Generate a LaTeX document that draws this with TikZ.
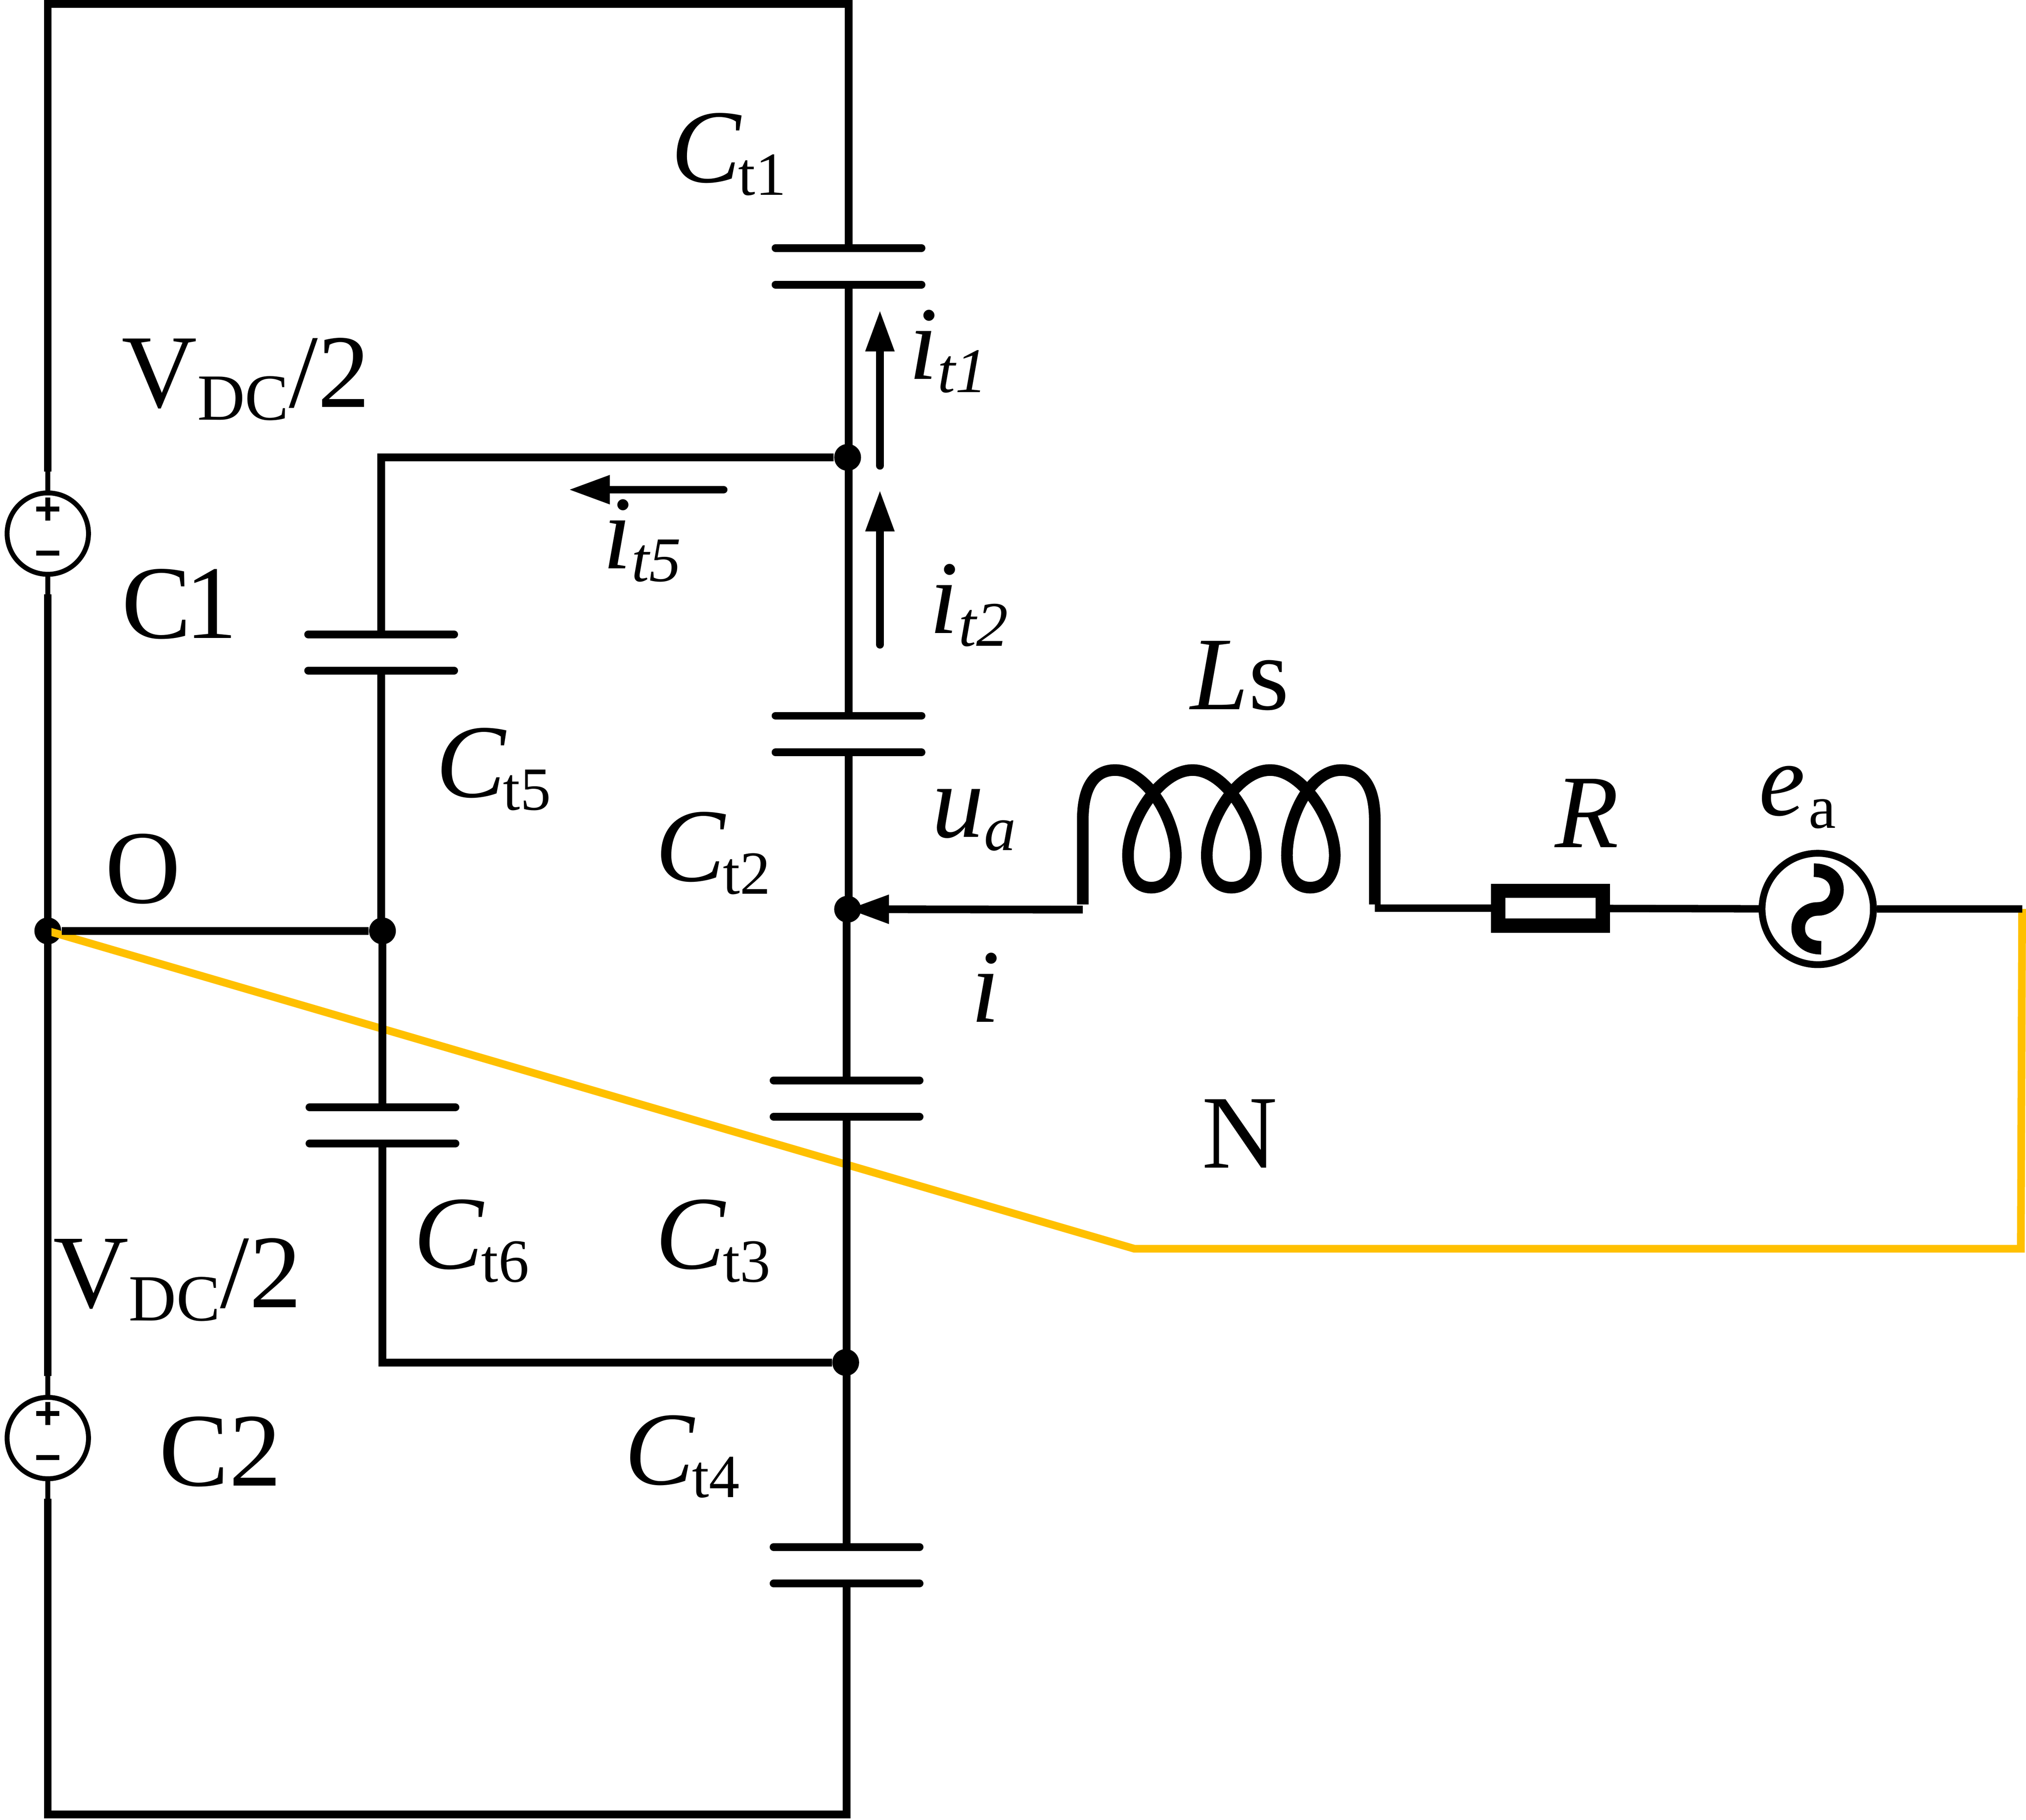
\documentclass[tikz,border=0pt]{standalone}
\usepackage{fontspec}
\setmainfont{Liberation Serif}
\usetikzlibrary{arrows.meta}
\definecolor{neutralline}{HTML}{FFC000}
\newcommand{\bigsize}{\fontsize{46pt}{50pt}\selectfont}
\newcommand{\subsize}{\fontsize{27pt}{30pt}\selectfont}
\newcommand{\lowsub}[1]{\hspace{-0.5mm}\raisebox{-2mm}{\subsize #1}}
\newcommand{\itsub}[1]{\raisebox{-2mm}{\fontsize{28pt}{30pt}\selectfont\textit{#1}}}
\tikzset{
	wire/.style={line width=1.2mm},
	thinwire/.style={line width=0.76mm},
	feed/.style={line width=1.15mm},
	plate/.style={line width=1.2mm, line cap=round},
	coil/.style={line width=1.8mm},
	flow/.style={line width=1.2mm, line cap=round, -{Triangle[length=6.4mm,width=4.2mm]}},
	junction/.style={circle, fill=black, inner sep=0pt, minimum size=4.15mm},
	dcsource/.style={circle, draw, line width=0.76mm, fill=white, inner sep=0pt, minimum size=12.6mm},
	acsource/.style={circle, draw, line width=1.06mm, fill=white, inner sep=0pt, minimum size=17.24mm},
	resistor/.style={rectangle, draw, line width=2.2mm, fill=white, inner sep=0pt, minimum width=16.2mm, minimum height=5.4mm},
	lab/.style={anchor=base west, inner sep=0pt, font=\bigsize},
}
\begin{document}
\begin{tikzpicture}[x=0.2mm,y=-0.2mm]
	\useasboundingbox (0,0) rectangle (1568,1408.6);
	% corners
	\coordinate (topleft) at (37,3);
	\coordinate (topright) at (656.7,3);
	\coordinate (botleft) at (37,1404.2);
	\coordinate (botright) at (655.2,1404.2);
	\coordinate (midright) at (1565,703.5);
	\coordinate (neutralbend) at (878,966.5);
	\coordinate (neutralend) at (1564,966.5);
	% nodes
	\node[dcsource] (vdca) at (37,413) {};
	\node[dcsource] (vdcb) at (37,1113) {};
	\node[junction] (jtop) at (656,354) {};
	\node[junction] (jo) at (37,720.5) {};
	\node[junction] (jleg) at (296,720.5) {};
	\node[junction] (ja) at (656,703.7) {};
	\node[junction] (jbot) at (654.5,1054.5) {};
	\node[resistor] (rs) at (1200,703) {};
	\node[acsource] (ea) at (1406.8,703.5) {};
	\coordinate (vaup) at (37,365);
	\coordinate (vadown) at (37,460);
	\coordinate (vbup) at (37,1065);
	\coordinate (vbdown) at (37,1160);
	\coordinate (coilin) at (838,704);
	\coordinate (coilout) at (1064,703);
	% neutral
	\draw[neutralline, line width=1.2mm] (jo.center) -- (neutralbend) -- (neutralend) -- (midright);
	% capacitors
	\foreach \name/\x/\ya/\yb in {ct1/656.7/192/220.3, ct2/656.7/554/582.3, ct3/655.2/836.2/864.4, ct4/655.2/1197.3/1225.6, ct5/295/491/519, ct6/296/857/885} {
		\coordinate (\name a) at (\x,\ya);
		\coordinate (\name b) at (\x,\yb);
		\draw[plate] (\name a) ++(-56.5,0) -- ++(113,0);
		\draw[plate] (\name b) ++(-56.5,0) -- ++(113,0);
	}
	% wires
	\draw[wire] (vaup) -- (topleft) -- (topright) -- (ct1a);
	\draw[wire] (ct1b) -- (ct2a);
	\draw[wire] (ct2b) -- (ct2b |- ja);
	\draw[wire] (ct3a |- ja) -- (ct3a);
	\draw[wire] (ct3b) -- (ct4a);
	\draw[wire] (ct4b) -- (botright) -- (botleft) -- (vbdown);
	\draw[wire] (vadown) -- (vbup);
	\draw[thinwire] (vaup) -- (vdca);
	\draw[thinwire] (vadown) -- (vdca);
	\draw[thinwire] (vbup) -- (vdcb);
	\draw[thinwire] (vbdown) -- (vdcb);
	\draw[wire] (jtop) -- (ct5a |- jtop) -- (ct5a);
	\draw[wire] (ct5b) -- (ct5b |- jleg);
	\draw[wire] (ct6a |- jleg) -- (ct6a);
	\draw[wire] (ct6b) -- (ct6b |- jbot) -- (jbot);
	\draw[wire] (jo) -- (jleg);
	\draw[feed] (coilout) -- (rs);
	\draw[feed] (rs) -- (ea);
	\draw[feed] (ea) -- (midright);
	% source signs
	\foreach \src in {vdca,vdcb} {
		\draw[line width=0.76mm] (\src) ++(-9,-19) -- ++(18,0);
		\draw[line width=0.76mm] (\src) ++(0,-28) -- ++(0,18);
		\draw[line width=0.76mm] (\src) ++(-9,15) -- ++(18,0);
	}
	% ac source wave
	\draw[line width=2.1mm] (1403.8,673.5) .. controls (1414,673.5) and (1421.7,679) .. (1421.7,688.6)
		.. controls (1421.7,697) and (1415,703.5) .. (1406.8,703.5)
		.. controls (1398,703.5) and (1391.7,710) .. (1391.7,718.4)
		.. controls (1391.7,728) and (1399,733.5) .. (1409.5,733.5);
	% coil
	\draw[coil] (838,700) -- (838,635) .. controls (838,605) and (850,596) .. (863,596)
		.. controls (888,596) and (910,635) .. (910,662) .. controls (910,678) and (902,687) .. (891,687)
		.. controls (880,687) and (873,678) .. (873,662) .. controls (873,635) and (898,596) .. (923,596)
		.. controls (948,596) and (972,635) .. (972,662) .. controls (972,678) and (964,687) .. (953,687)
		.. controls (942,687) and (934,678) .. (934,662) .. controls (934,635) and (958,596) .. (983,596)
		.. controls (1008,596) and (1033,635) .. (1033,662) .. controls (1033,678) and (1025,687) .. (1014,687)
		.. controls (1003,687) and (996,678) .. (996,662) .. controls (996,635) and (1013,596) .. (1038,596)
		.. controls (1052,596) and (1064,605) .. (1064,635) -- (1064,700);
	% currents
	\coordinate (ione) at (681,360.5);
	\coordinate (ionetip) at (681,240);
	\coordinate (itwo) at (681,499);
	\coordinate (itwotip) at (681,379.3);
	\coordinate (ifive) at (560,379);
	\coordinate (ifivetip) at (440,379);
	\draw[flow] (ione) -- (ionetip);
	\draw[flow] (itwo) -- (itwotip);
	\draw[flow] (ifive) -- (ifivetip);
	\draw[wire, -{Triangle[length=6.4mm,width=4.2mm]}] (coilin) -- (ja.center);
	% labels
	\node[lab] (lct1) at (519,141) {\textit{C}\lowsub{t1}};
	\node[lab] (lct2) at (507,682) {\textit{C}\lowsub{t2}};
	\node[lab] (lct3) at (507,982) {\textit{C}\lowsub{t3}};
	\node[lab] (lct4) at (483,1149) {\textit{C}\lowsub{t4}};
	\node[lab] (lct5) at (337,617) {\textit{C}\lowsub{t5}};
	\node[lab] (lct6) at (320,982) {\textit{C}\lowsub{t6}};
	\node[lab] (lvdca) at (94,315) {V\raisebox{-2mm}{\fontsize{29pt}{30pt}\selectfont DC}/2};
	\node[lab] (lvdcb) at (41,1012) {V\raisebox{-2mm}{\fontsize{29pt}{30pt}\selectfont DC}/2};
	\node[lab] (lca) at (94,494) {C\hspace{-1mm}1};
	\node[lab] (lcb) at (123,1150) {C2};
	\node[lab] (lo) at (81,699) {O};
	\node[lab] (ln) at (930,904) {N};
	\node[lab] (lls) at (921,549) {\textit{L}s};
	\node[lab] (lr) at (1203,656) {\textit{R}};
	\node[lab] (lea) at (1361,631) {\textit{e}\hspace{1mm}\lowsub{a}};
	\node[lab] (lua) at (721,648) {\textit{u}\itsub{a}};
	\node[lab] (li) at (751,791) {\textit{i}};
	\node[lab] (lione) at (703,293.5) {\textit{i}\itsub{t1}};
	\node[lab] (litwo) at (719,490) {\textit{i}\itsub{t2}};
	\node[lab] (lifive) at (466,440) {\textit{i}\itsub{t5}};
\end{tikzpicture}
\end{document}
